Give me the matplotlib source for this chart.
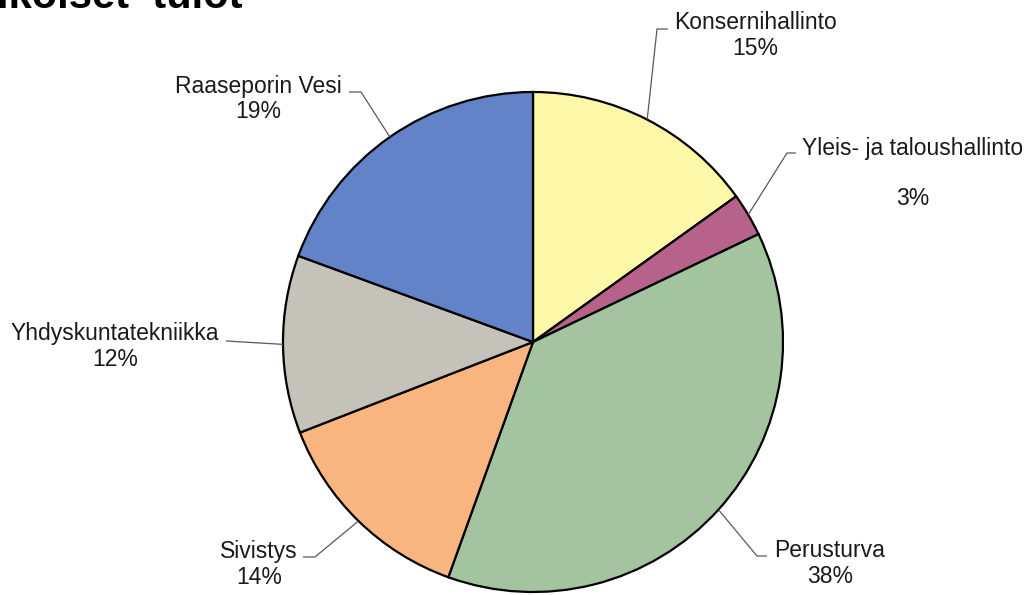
import numpy as np
import matplotlib
matplotlib.use('Agg')
from matplotlib import pyplot as plt

# Tiedot (osuudet prosentteina, luettu kuvasta)
nimet = ['Konsernihallinto', 'Yleis- ja taloushallinto', 'Perusturva',
         'Sivistys', 'Yhdyskuntatekniikka', 'Raaseporin Vesi']
osuudet = [15.1, 2.8, 37.6, 13.6, 11.5, 19.4]
otsikko = 'ikoiset  tulot'

varit = ['#FDF8A8', '#B7628A', '#A4C4A0', '#F8B57F', '#C5C2BA', '#6383C9']

W, H = 1032, 595
keskus = (533, H - 342)
sade = 250

# tekstien paikat (pikseleina ylhaalta) ja viivan mutkat
teksti_xy = [(755, 35.5), (913, 173.5), (830, 563.5), (259, 564.5), (115, 346.5), (258, 99)]
mutka = [[(657, 29), (668, 29)],
         [(787, 153), (796, 153)],
         [(757, 556), (767, 556)],
         [(315, 557), (303, 557)],
         [(226, 341)],
         [(361, 92), (349, 92)]]
rivivali = ['\n', '\n\n', '\n', '\n', '\n', '\n']


def main():
    plt.rcParams['font.family'] = ['Liberation Sans', 'DejaVu Sans']
    fig = plt.figure(figsize=(W / 100, H / 100), dpi=100)
    ax = fig.add_axes([0, 0, 1, 1])

    ax.pie(osuudet, colors=varit, startangle=90, counterclock=False,
           center=keskus, radius=sade, frame=True,
           wedgeprops=dict(edgecolor='black', linewidth=1.6))
    ax.set_xlim(0, W)
    ax.set_ylim(0, H)
    ax.set_aspect('equal')
    ax.axis('off')

    kum = np.cumsum([0] + osuudet)
    yht = kum[-1]
    for i in range(len(nimet)):
        keski = (kum[i] + osuudet[i] / 2) / yht * 360  # asteina ylhaalta myotapaivaan
        a = np.radians(keski)
        x0 = keskus[0] + sade * np.sin(a)
        y0 = keskus[1] + sade * np.cos(a)
        xs = [x0] + [p[0] for p in mutka[i]]
        ys = [y0] + [H - p[1] for p in mutka[i]]
        ax.plot(xs, ys, color='#595959', lw=0.9, solid_capstyle='butt')
        pros = '{:.0f}%'.format(osuudet[i])
        tx, ty = teksti_xy[i]
        ax.text(tx, H - ty, nimet[i] + rivivali[i] + pros, ha='center', va='center',
                multialignment='center', fontsize=16.5, color='#1a1a1a', linespacing=1.12)

    # otsikko leikkautuu kuvan ylareunaan kuten alkuperaisessa
    ax.text(-3, H - 8, otsikko, fontsize=30, fontweight='bold', ha='left',
            va='baseline', color='black')

    plt.savefig('out.png', dpi=100)


if __name__ == '__main__':
    main()
